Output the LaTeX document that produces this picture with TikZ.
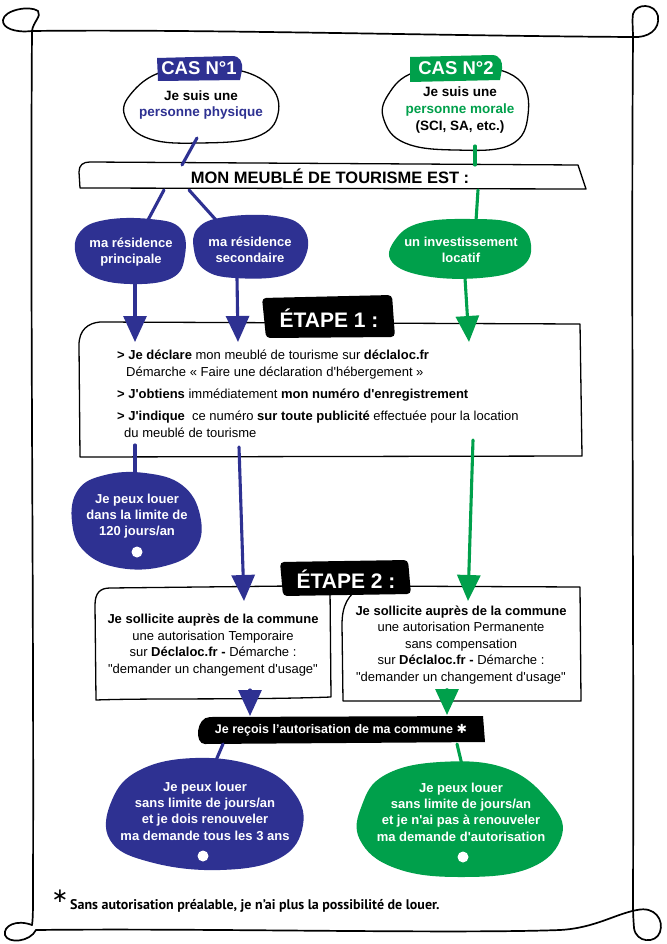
\documentclass[tikz,border=0pt]{standalone}
\usepackage{fontspec}
\setmainfont{Liberation Sans}[Ligatures=TeXOff]
\newfontfamily\ptsans{PT Sans}
\newfontfamily\djv{DejaVu Sans}
\usetikzlibrary{arrows.meta}
\definecolor{cblue}{HTML}{2E3192}
\definecolor{cgreen}{HTML}{00A04B}
\tikzset{
  frameline/.style={line width=1.7pt, line cap=round, line join=round},
  boxline/.style={line width=1.3pt, line join=round},
  conn/.style={line width=3.1pt, line cap=round},
  bconn/.style={conn, draw=cblue},
  gconn/.style={conn, draw=cgreen},
  tip/.style={-{Triangle[width=23pt,length=26pt]}},
  blobtext/.style={text=white, align=center, font=\bfseries\fontsize{13}{16.5}\selectfont},
  bodytext/.style={align=center, font=\fontsize{13}{16.5}\selectfont},
  headtext/.style={text=white, font=\bfseries\fontsize{18.5}{19}\selectfont},
  etapetext/.style={text=white, font=\bfseries\fontsize{21}{22}\selectfont},
  linetext/.style={anchor=base west, inner sep=0pt, font=\fontsize{13}{15}\selectfont},
}
\begin{document}
\begin{tikzpicture}[x=1pt,y=-1pt]
\fill[white] (0,0) rectangle (666,944);
\useasboundingbox (0,0) rectangle (666,944);

% ---------- frame ----------
\draw[frameline] (32,31) .. controls (200,29) and (450,36) .. (633,37);
\draw[frameline] (32,31) .. controls (15,33) and (2,28) .. (3,20) .. controls (4,10) and (30,5) .. (38,11) .. controls (42,16) and (33,22) .. (32,31);
\draw[frameline] (32,31) .. controls (30,300) and (34,600) .. (33,890) .. controls (33,910) and (33,918) .. (32,925);
\draw[frameline] (32,925) .. controls (16,919) and (3,926) .. (5,935) .. controls (8,944) and (30,942) .. (36,930);
\draw[frameline] (36,930) .. controls (200,928) and (450,934) .. (560,930) .. controls (595,928) and (615,914) .. (637,910);
\draw[frameline] (637,910) .. controls (655,906) and (664,920) .. (660,932) .. controls (656,944) and (636,943) .. (634,928) .. controls (633,915) and (633,910) .. (633,900);
\draw[frameline] (633,37) .. controls (631,300) and (634,600) .. (633,900);
\draw[frameline] (633,37) .. controls (648,38) and (660,30) .. (658,16) .. controls (655,3) and (636,3) .. (633,14) .. controls (632,20) and (633,30) .. (633,37);

% ---------- case 1 ----------
\draw[boxline] plot[smooth cycle, tension=0.7] coordinates {(130,95) (165,71) (225,68) (268,84) (278,114) (256,137) (200,143) (150,139) (126,119)};
\fill[cblue] (157,58) -- (232,56) .. controls (240,56) and (243,62) .. (242,70) -- (240,80) -- (158,81) -- cycle;
\node[headtext] (c1lab) at (199,68) {CAS N°1};
\node[align=center, font=\bfseries\fontsize{13.5}{16}\selectfont] (c1) at (201,105) {Je suis une\\\textcolor{cblue}{personne physique}};

% ---------- case 2 ----------
\draw[boxline] plot[smooth cycle, tension=0.7] coordinates {(388,95) (415,72) (470,66) (518,79) (528,115) (510,145) (455,150) (405,143) (384,120)};
\fill[cgreen] (410,57) -- (492,55) .. controls (500,55) and (503,62) .. (502,69) -- (500,80) -- (410,82) -- cycle;
\node[headtext] (c2lab) at (456,68) {CAS N°2};
\node[align=center, font=\bfseries\fontsize{13.5}{17}\selectfont] (c2) at (460,110) {Je suis une\\\textcolor{cgreen}{personne morale}\\(SCI, SA, etc.)};

% ---------- banner ----------
\draw[boxline, fill=white] (90,162) -- (578,165) -- (586,189) -- (80,188) -- (79,172) .. controls (79,165) and (83,162) .. (90,162);
\node[font=\bfseries\fontsize{16.5}{17}\selectfont] (banner) at (330,176) {MON MEUBLÉ DE TOURISME EST :};

\coordinate (c1s) at (197,138);
\coordinate (bn1) at (182,165);
\coordinate (c2s) at (475,146);
\coordinate (bn2) at (475,165);
\draw[bconn] (c1s) -- (bn1);
\draw[gconn] (c2s) -- (bn2);

% ---------- first blobs ----------
\fill[cblue] plot[smooth cycle, tension=0.7] coordinates {(80,232) (105,220) (150,219) (180,228) (185,255) (172,278) (130,284) (92,276) (76,255)};
\node[blobtext] (b1) at (131,252) {ma résidence\\principale};
\fill[cblue] plot[smooth cycle, tension=0.7] coordinates {(198,228) (225,217) (275,216) (303,228) (306,255) (285,275) (235,278) (205,270) (194,250)};
\node[blobtext] (b2) at (250,250) {ma résidence\\secondaire};
\fill[cgreen] plot[smooth cycle, tension=0.7] coordinates {(395,240) (420,223) (470,219) (515,224) (531,245) (520,268) (480,278) (425,276) (392,262)};
\node[blobtext] (b3) at (461,250) {un investissement\\locatif};

\coordinate (bn3) at (164,190);
\coordinate (bn4) at (189,190);
\coordinate (bn5) at (478,190);
\coordinate (b1n) at (148,220);
\coordinate (b2n) at (216,220);
\coordinate (b3n) at (476,221);
\draw[bconn] (bn3) -- (b1n);
\draw[bconn] (bn4) -- (b2n);
\draw[gconn] (bn5) -- (b3n);

% ---------- etape 1 ----------
\draw[boxline, fill=white] (100,322) -- (580,324) -- (582,456) -- (80,457) -- (79,345) .. controls (79,330) and (88,323) .. (100,322);
\node[linetext] (e1a) at (117,359) {\textbf{> Je déclare} mon meublé de tourisme sur \textbf{déclaloc.fr}};
\node[linetext] (e1b) at (126,376) {Démarche « Faire une déclaration d'hébergement »};
\node[linetext] (e1c) at (117,398) {\textbf{> J'obtiens} immédiatement \textbf{mon numéro d'enregistrement}};
\node[linetext] (e1d) at (117,420) {\textbf{> J'indique} \ ce numéro \textbf{sur toute publicité} effectuée pour la location};
\node[linetext] (e1e) at (124,437) {du meublé de tourisme};

\coordinate (b1s) at (135,283);
\coordinate (b2s) at (237,278);
\coordinate (b3s) at (465,278);
\coordinate (e1n1) at (135,342);
\coordinate (e1n2) at (238,342);
\coordinate (e1n3) at (469,342);
\draw[bconn, tip] (b1s) -- (e1n1);
\draw[bconn, tip] (b2s) -- (e1n2);
\draw[gconn, tip] (b3s) -- (e1n3);

\fill[black, rounded corners=4pt] (262,298) -- (392,295) -- (395,337) -- (266,338) -- cycle;
\node[etapetext] (e1lab) at (329,318) {ÉTAPE 1 :};

% ---------- blob 120 jours ----------
\fill[cblue] plot[smooth cycle, tension=0.7] coordinates {(78,490) (105,475) (145,473) (182,485) (200,515) (196,548) (165,566) (120,568) (85,552) (72,522)};
\node[blobtext, font=\bfseries\fontsize{13}{16}\selectfont] (b4) at (137,516) {Je peux louer\\dans la limite de\\120 jours/an};
\fill[white] (137,552) circle (5.5);
\coordinate (e1s1) at (135,445);
\coordinate (b4n) at (135,474);
\draw[bconn] (e1s1) -- (b4n);

% ---------- etape 2 ----------
\draw[boxline, fill=white] (110,588) -- (290,586) -- (330,589) -- (331,697) .. controls (250,700) and (150,698) .. (96,700) -- (95,605) .. controls (95,593) and (100,588) .. (110,588);
\draw[boxline, fill=white] (362,586) -- (580,587) -- (581,701) -- (343,701) -- (342,625) .. controls (342,605) and (348,595) .. (362,586);
\node[bodytext] (e2l) at (213,645) {\textbf{Je sollicite auprès de la commune}\\une autorisation Temporaire\\sur \textbf{Déclaloc.fr -} Démarche :\\"demander un changement d'usage"};
\node[bodytext] (e2r) at (461,645) {\textbf{Je sollicite auprès de la commune}\\une autorisation Permanente\\sans compensation\\sur \textbf{Déclaloc.fr -} Démarche :\\"demander un changement d'usage"};

\fill[black, rounded corners=4pt] (280,562) -- (408,560) -- (411,594) -- (283,596) -- cycle;
\node[etapetext] (e2lab) at (346,579) {ÉTAPE 2 :};

\coordinate (e1s2) at (239,447);
\coordinate (e1s3) at (473,440);
\coordinate (e2n1) at (244,601);
\coordinate (e2n2) at (468,601);
\draw[bconn, tip] (e1s2) -- (e2n1);
\draw[gconn, tip] (e1s3) -- (e2n2);

% ---------- bar ----------
\fill[black] (210,717) -- (483,716) -- (485,742) -- (205,744) .. controls (194,744) and (196,717) .. (210,717);
\node[text=white, font=\bfseries\fontsize{12.5}{13}\selectfont] (bar) at (341,730) {Je reçois l’autorisation de ma commune {\djv ✱}};

\coordinate (e2s1) at (250,690);
\coordinate (e2s2) at (447,690);
\coordinate (bar1) at (250,716);
\coordinate (bar2) at (447,715);
\draw[bconn, tip] (e2s1) -- (bar1);
\draw[gconn, tip] (e2s2) -- (bar2);

% ---------- final blobs ----------
\fill[cblue] plot[smooth cycle, tension=0.7] coordinates {(112,800) (140,770) (195,758) (255,766) (292,790) (303,825) (280,858) (220,870) (150,862) (110,840)};
\node[blobtext, font=\bfseries\fontsize{13}{16.3}\selectfont] (b5) at (205,811) {Je peux louer\\sans limite de jours/an\\et je dois renouveler\\ma demande tous les 3 ans};
\fill[white] (203,856) circle (5.5);
\fill[cgreen] plot[smooth cycle, tension=0.7] coordinates {(362,805) (385,775) (440,762) (505,768) (548,800) (562,835) (530,868) (460,877) (395,868) (360,840)};
\node[blobtext, font=\bfseries\fontsize{13}{16.3}\selectfont] (b6) at (461,812) {Je peux louer\\sans limite de jours/an\\et je n'ai pas à renouveler\\ma demande d'autorisation};
\fill[white] (463,857) circle (5.5);

\coordinate (bar3) at (223,744);
\coordinate (bar4) at (457,744);
\coordinate (b5n) at (214,765);
\coordinate (b6n) at (462,765);
\draw[bconn] (bar3) -- (b5n);
\draw[gconn] (bar4) -- (b6n);

% ---------- footnote ----------
\node[font=\djv\fontsize{20}{20}\selectfont, inner sep=0pt] (star) at (60,896) {∗};
\node[anchor=base west, inner sep=0pt, font=\ptsans\bfseries\fontsize{14}{16}\selectfont] (note) at (70,909) {Sans autorisation préalable, je n’ai plus la possibilité de louer.};
\end{tikzpicture}
\end{document}
